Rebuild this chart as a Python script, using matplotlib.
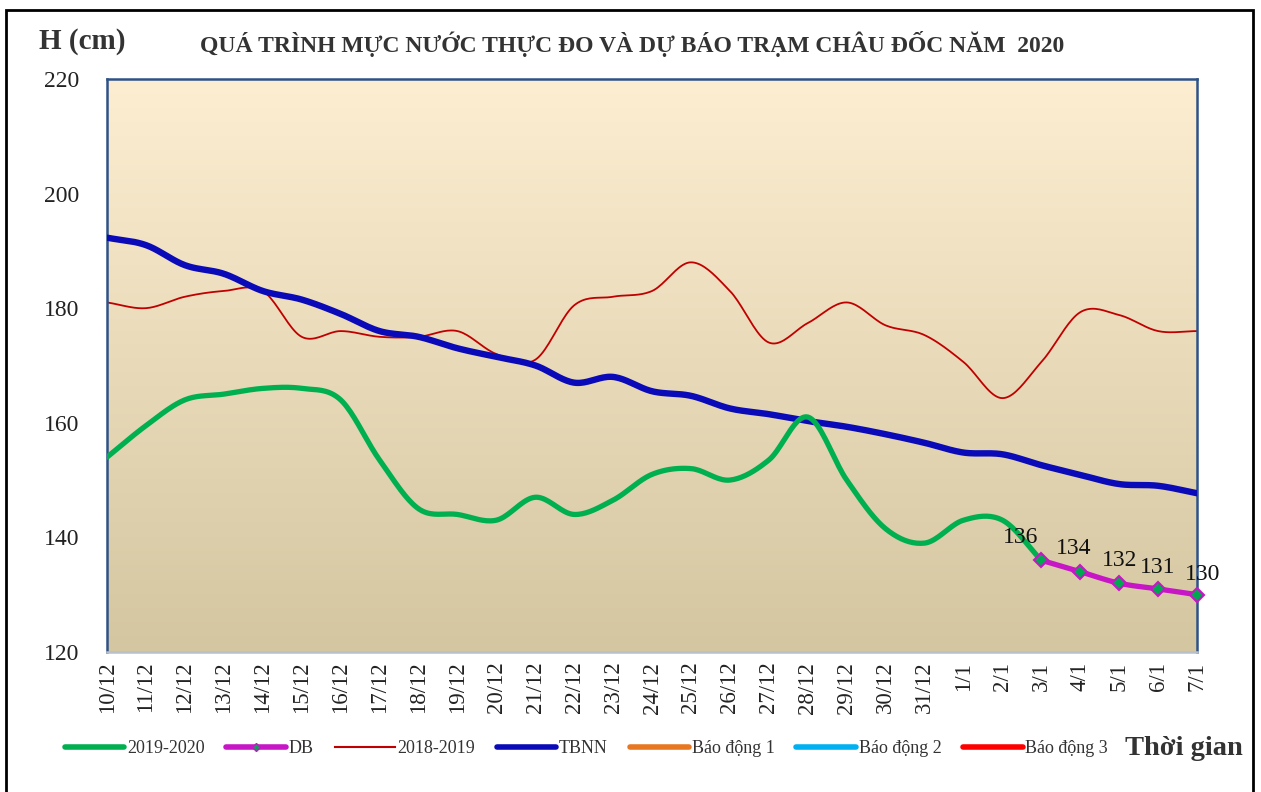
import numpy as np
import matplotlib.pyplot as plt
from matplotlib.lines import Line2D
from matplotlib.patches import Rectangle

dates = ["10/12", "11/12", "12/12", "13/12", "14/12", "15/12", "16/12", "17/12",
         "18/12", "19/12", "20/12", "21/12", "22/12", "23/12", "24/12", "25/12",
         "26/12", "27/12", "28/12", "29/12", "30/12", "31/12", "1/1", "2/1",
         "3/1", "4/1", "5/1", "6/1", "7/1"]

# 2019-2020 observed (10/12 -> 3/1)
obs_2020 = [154, 159.5, 164, 165, 166, 166, 164, 153.5, 145, 144, 143, 147,
            144, 146.5, 151, 152, 150, 153.5, 161, 150, 141.5, 139, 143, 143, 136]
# forecast (3/1 -> 7/1)
db = [136, 134, 132, 131, 130]
# 2018-2019
y2019 = [181, 180, 182, 183, 183, 175, 176, 175, 175, 176, 172, 171, 180.5, 182,
         183, 188, 183, 174, 177.4, 181, 177, 175.3, 170.6, 164.3, 170.6, 179.3,
         178.8, 176, 176]
# TBNN
tbnn = [192.3, 191, 187.5, 186, 183, 181.5, 179, 176, 175, 173, 171.5, 170, 167,
        168, 165.5, 164.7, 162.5, 161.5, 160.3, 159.3, 158, 156.5, 154.8, 154.5,
        152.6, 150.9, 149.3, 149, 147.7]

serif = ["Liberation Serif", "DejaVu Serif"]
plt.rcParams['font.family'] = serif


def smooth(x, y, n=20):
    # Catmull-Rom curve through the points (like Excel's smoothed line)
    x = np.asarray(x, float)
    y = np.asarray(y, float)
    px = np.concatenate([[2 * x[0] - x[1]], x, [2 * x[-1] - x[-2]]])
    py = np.concatenate([[2 * y[0] - y[1]], y, [2 * y[-1] - y[-2]]])
    xs, ys = [], []
    t = np.linspace(0, 1, n, endpoint=False)
    for i in range(1, len(px) - 2):
        for p, out in ((px, xs), (py, ys)):
            p0, p1, p2, p3 = p[i - 1], p[i], p[i + 1], p[i + 2]
            out.extend(0.5 * (2 * p1 + (-p0 + p2) * t
                              + (2 * p0 - 5 * p1 + 4 * p2 - p3) * t ** 2
                              + (-p0 + 3 * p1 - 3 * p2 + p3) * t ** 3))
    xs.append(x[-1])
    ys.append(y[-1])
    return np.array(xs), np.array(ys)


fig = plt.figure(figsize=(12.61, 7.92), dpi=100)
ax = fig.add_axes([0.0849, 0.1768, 0.8644, 0.7235])

x = np.arange(len(dates))
ax.set_xlim(0, len(dates) - 1)
ax.set_ylim(120, 220)

# background gradient
top = np.array([253, 238, 210]) / 255
bot = np.array([212, 198, 160]) / 255
g = np.linspace(0, 1, 256)[:, None, None]
grad = top * (1 - g) + bot * g
ax.imshow(grad, extent=[0, len(dates) - 1, 120, 220], aspect='auto',
          zorder=0, origin='upper')

xs, ys = smooth(x, y2019)
ax.plot(xs, ys, color='#C00000', lw=1.3, zorder=2)
xs, ys = smooth(x, tbnn)
ax.plot(xs, ys, color='#0A0AB8', lw=4.6, zorder=3, solid_capstyle='round')
xs, ys = smooth(x[:len(obs_2020)], obs_2020)
ax.plot(xs, ys, color='#00B050', lw=3.8, zorder=4, solid_capstyle='round')
xd = x[len(obs_2020) - 1:]
xs, ys = smooth(xd, db)
ax.plot(xs, ys, color='#C616C6', lw=3.8, zorder=5, solid_capstyle='round',
        clip_on=False)
ax.plot(xd, db, ls='none', marker='D', ms=7, mfc='#00A84F', mec='#C616C6',
        mew=1.5, zorder=6, clip_on=False)

offsets = [(-15, 9), (-5, 9), (0, 9), (0, 8), (4, 7)]
for xi, v, off in zip(xd, db, offsets):
    ax.annotate(str(v), (xi, v), xytext=off, textcoords='offset points',
                ha='center', va='bottom', fontsize=17, color='#111111',
                zorder=7, annotation_clip=False)

ax.set_xticks(x)
ax.set_xticklabels(dates, rotation=90, fontsize=16.5, color='#222222')
ax.set_yticks(np.arange(120, 221, 20))
ax.tick_params(axis='y', labelsize=17, pad=20, length=0, labelcolor='#222222')
ax.tick_params(axis='x', pad=7, length=0)

for side in ['top', 'left', 'right']:
    ax.spines[side].set_color('#2E5288')
    ax.spines[side].set_linewidth(1.8)
ax.spines['bottom'].set_color('#B8C0CC')
ax.spines['bottom'].set_linewidth(1.8)

fig.text(0.501, 0.944, "QUÁ TRÌNH MỰC NƯỚC THỰC ĐO VÀ DỰ BÁO TRẠM CHÂU ĐỐC NĂM  2020",
         ha='center', va='center', fontsize=17, fontweight='bold',
         color='#333333')
fig.text(0.031, 0.948, "H (cm)", ha='left', va='center', fontsize=21,
         fontweight='bold', color='#333333')
fig.text(0.892, 0.055, "Thời gian", ha='left', va='center', fontsize=20.5,
         fontweight='bold', color='#333333')

handles = [
    Line2D([], [], color='#00B050', lw=4, solid_capstyle='round'),
    Line2D([], [], color='#C616C6', lw=4, marker='D', ms=4, mfc='#00A84F',
           mec='#C616C6', solid_capstyle='round'),
    Line2D([], [], color='#C00000', lw=1.5),
    Line2D([], [], color='#0A0AB8', lw=4, solid_capstyle='round'),
    Line2D([], [], color='#E87722', lw=4, solid_capstyle='round'),
    Line2D([], [], color='#00B0F0', lw=4, solid_capstyle='round'),
    Line2D([], [], color='#FF0000', lw=4, solid_capstyle='round'),
]
labels = ["2019-2020", "DB", "2018-2019", "TBNN", "Báo động 1", "Báo động 2",
          "Báo động 3"]
fig.legend(handles, labels, loc='center', bbox_to_anchor=(0.465, 0.055),
           ncol=7, frameon=False, fontsize=13, handlelength=3.3,
           handletextpad=0.15, columnspacing=1.2, labelcolor='#333333')

fig.patches.append(Rectangle((0.005, -0.01), 0.989, 0.997,
                             transform=fig.transFigure, fill=False,
                             ec='black', lw=2))

fig.savefig("out.png", dpi=100)
